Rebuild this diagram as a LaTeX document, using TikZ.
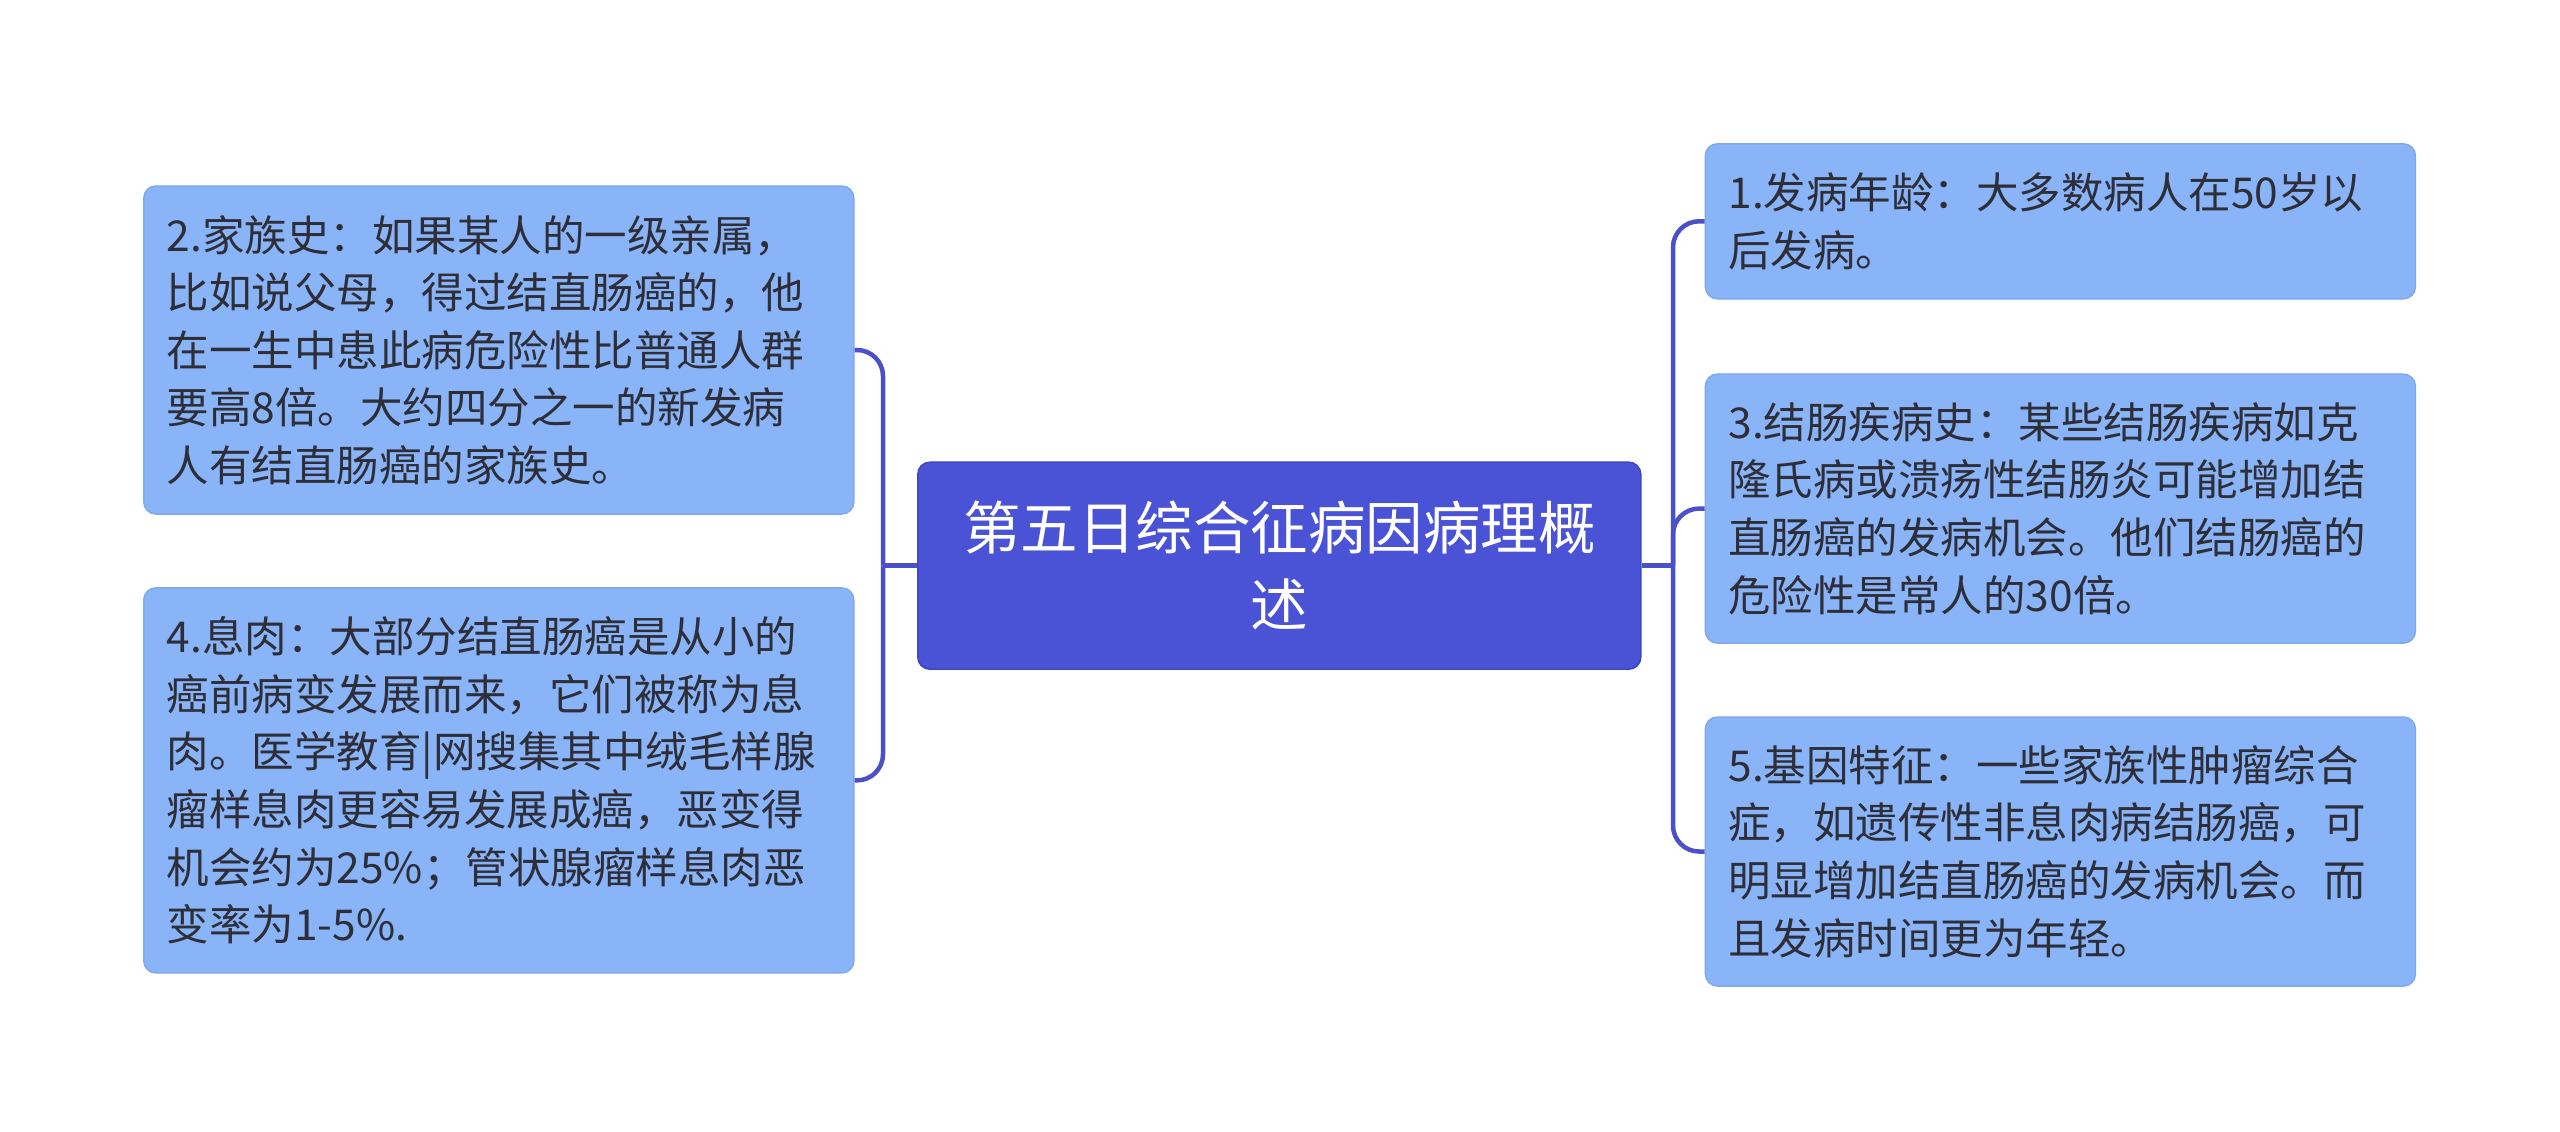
\documentclass[tikz,border=0pt]{standalone}
\usepackage{fontspec}
\setmainfont{Noto Sans CJK SC}
\definecolor{mainblue}{HTML}{4A52D6}
\definecolor{mainborder}{HTML}{3E46C0}
\definecolor{linecol}{HTML}{4A50C8}
\definecolor{leaffill}{HTML}{8AB4F8}
\definecolor{leafborder}{HTML}{7EA8F0}
\definecolor{txt}{HTML}{2E2E38}
\begin{document}
\begin{tikzpicture}[x=1pt,y=-1pt,
  leaf/.style={draw=leafborder, line width=1.5pt, fill=leaffill, rounded corners=12pt,
    text=txt, align=left, text width=664pt, inner xsep=23pt, inner ysep=0pt,
    minimum width=710pt, font=\fontsize{42.5}{57.6}\selectfont},
  root/.style={draw=mainborder, line width=1.5pt, fill=mainblue, rounded corners=12pt,
    text=white, align=center, text width=640pt, inner xsep=41pt, inner ysep=0pt,
    minimum width=723pt, minimum height=207pt, font=\fontsize{57.5}{76.7}\selectfont},
  conn/.style={draw=linecol, line width=4.5pt},
  elbow/.style={conn, rounded corners=26pt}]
\useasboundingbox (0,0) rectangle (2560,1132);
\fill[white] (0,0) rectangle (2560,1132);

\node[root] (c) at (1279.3,565.7) {第五日综合征病因病理概\\述};

\node[leaf, minimum height=328pt] (l2) at (498.8,350) {2.家族史：如果某人的一级亲属，\\比如说父母，得过结直肠癌的，他\\在一生中患此病危险性比普通人群\\要高8倍。大约四分之一的新发病\\人有结直肠癌的家族史。};
\node[leaf, minimum height=385pt] (l4) at (498.8,780.4) {4.息肉：大部分结直肠癌是从小的\\癌前病变发展而来，它们被称为息\\肉。医学教育|网搜集其中绒毛样腺\\瘤样息肉更容易发展成癌，恶变得\\机会约为25\%；管状腺瘤样息肉恶\\变率为1-5\%.};

\node[leaf, minimum height=155pt] (r1) at (2060.4,221.3) {1.发病年龄：大多数病人在50岁以\\后发病。};
\node[leaf, minimum height=269pt] (r3) at (2060.4,508.6) {3.结肠疾病史：某些结肠疾病如克\\隆氏病或溃疡性结肠炎可能增加结\\直肠癌的发病机会。他们结肠癌的\\危险性是常人的30倍。};
\node[leaf, minimum height=269pt] (r5) at (2060.4,851.5) {5.基因特征：一些家族性肿瘤综合\\症，如遗传性非息肉病结肠癌，可\\明显增加结直肠癌的发病机会。而\\且发病时间更为年轻。};

\coordinate (jl) at (883,565.7);
\coordinate (jr) at (1673,565.7);

\begin{scope}[on background layer/.style={}]
\draw[conn] (c.west) -- (jl);
\draw[elbow] (jl) |- (l2.east);
\draw[elbow] (jl) |- (l4.east);
\draw[conn] (c.east) -- (jr);
\draw[elbow] (jr) |- (r1.west);
\draw[elbow] (jr) |- (r3.west);
\draw[elbow] (jr) |- (r5.west);
\end{scope}
\end{tikzpicture}
\end{document}
